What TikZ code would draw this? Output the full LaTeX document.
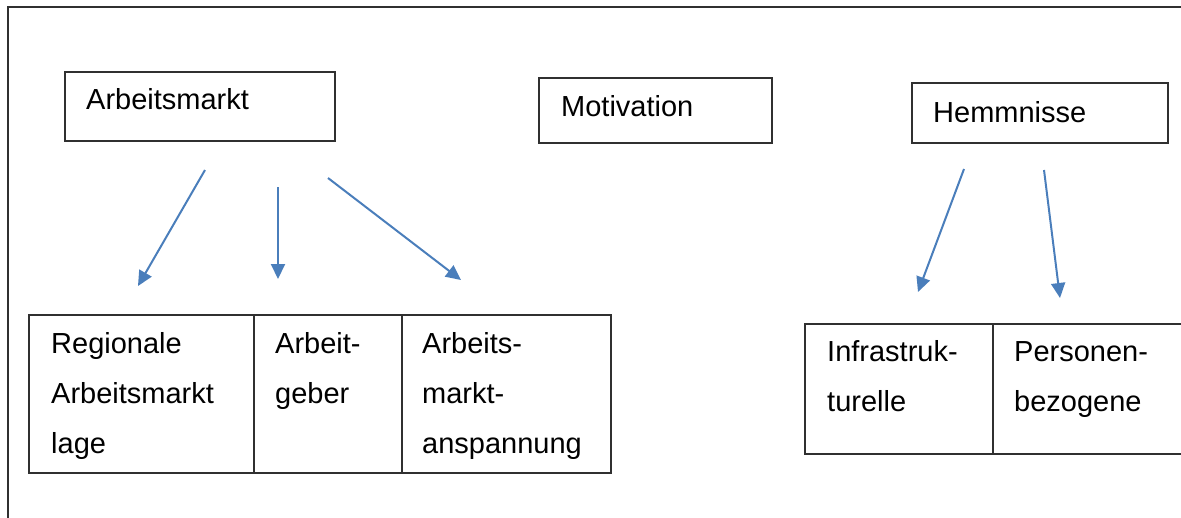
\documentclass[tikz,border=0pt]{standalone}
\usepackage{fontspec}
\setmainfont{Liberation Sans}
\usetikzlibrary{arrows.meta,calc}
\usepackage{xcolor}
\definecolor{arrowblue}{HTML}{4A7EBB}
\definecolor{linegray}{HTML}{303030}

\tikzset{
  cell/.style={draw=linegray, line width=1.3pt, rectangle, anchor=north west, inner sep=0pt, outer sep=0pt},
  txt/.style={anchor=base west, inner sep=0pt, align=left},
  link/.style={-{Triangle[length=15pt,width=14pt]}, line width=2pt, draw=arrowblue, fill=arrowblue}
}

\begin{document}
\begin{tikzpicture}[x=1pt, y=-1pt, every node/.style={font=\fontsize{29}{50}\selectfont}]
      \clip (0,0) rectangle (1181,517);
      % outer frame
      \draw [line width=1.5pt, color=linegray] (8,7) rectangle (1200,540);

      % upper boxes
      \node [cell, minimum width=270pt, minimum height=69pt, name=arbeit] at (65,72) {};
      \node [txt, name=arbeittxt] at ($(arbeit.north west) + (21,37)$) {Arbeitsmarkt};
      \node [cell, minimum width=233pt, minimum height=65pt, name=motiv] at (539,78) {};
      \node [txt, name=motivtxt] at ($(motiv.north west) + (22,38)$) {Motivation};
      \node [cell, minimum width=256pt, minimum height=60pt, name=hemm] at (912,83) {};
      \node [txt, name=hemmtxt] at ($(hemm.north west) + (21,39)$) {Hemmnisse};

      % left table (base of a text node = its last line)
      \node [cell, minimum width=225pt, minimum height=158pt, name=regio] at (29,315) {};
      \node [cell, minimum width=148pt, minimum height=158pt, name=geber] at (regio.north east) {};
      \node [cell, minimum width=209pt, minimum height=158pt, name=spann] at (geber.north east) {};
      \node [txt, name=regiotxt] at ($(regio.north west) + (22,138)$) {Regionale\\Arbeitsmarkt\\lage};
      \node [txt, name=gebertxt] at ($(geber.north west) + (21,88)$) {Arbeit-\\geber};
      \node [txt, name=spanntxt] at ($(spann.north west) + (20,138)$) {Arbeits-\\markt-\\anspannung};

      % right table
      \node [cell, minimum width=188pt, minimum height=130pt, name=infra] at (805,324) {};
      \node [cell, minimum width=220pt, minimum height=130pt, name=person] at (infra.north east) {};
      \node [txt, name=infratxt] at ($(infra.north west) + (22,87)$) {Infrastruk-\\turelle};
      \node [txt, name=persontxt] at ($(person.north west) + (21,87)$) {Personen-\\bezogene};

      % arrow ends
      \coordinate (a1) at ($(arbeit.south west) + (140,29)$);
      \coordinate (r1) at ($(regio.north west) + (109,-29)$);
      \coordinate (a2) at ($(arbeit.south west) + (213,46)$);
      \coordinate (g1) at ($(geber.north west) + (24,-36)$);
      \coordinate (a3) at ($(arbeit.south west) + (263,37)$);
      \coordinate (s1) at ($(spann.north west) + (59,-35)$);
      \coordinate (h1) at ($(hemm.south west) + (52,26)$);
      \coordinate (i1) at ($(infra.north west) + (113,-32)$);
      \coordinate (h2) at ($(hemm.south west) + (132,27)$);
      \coordinate (p1) at ($(person.north west) + (67,-26)$);

      \draw [link] (a1) -- (r1);
      \draw [link] (a2) -- (g1);
      \draw [link] (a3) -- (s1);
      \draw [link] (h1) -- (i1);
      \draw [link] (h2) -- (p1);
    \end{tikzpicture}
\end{document}
